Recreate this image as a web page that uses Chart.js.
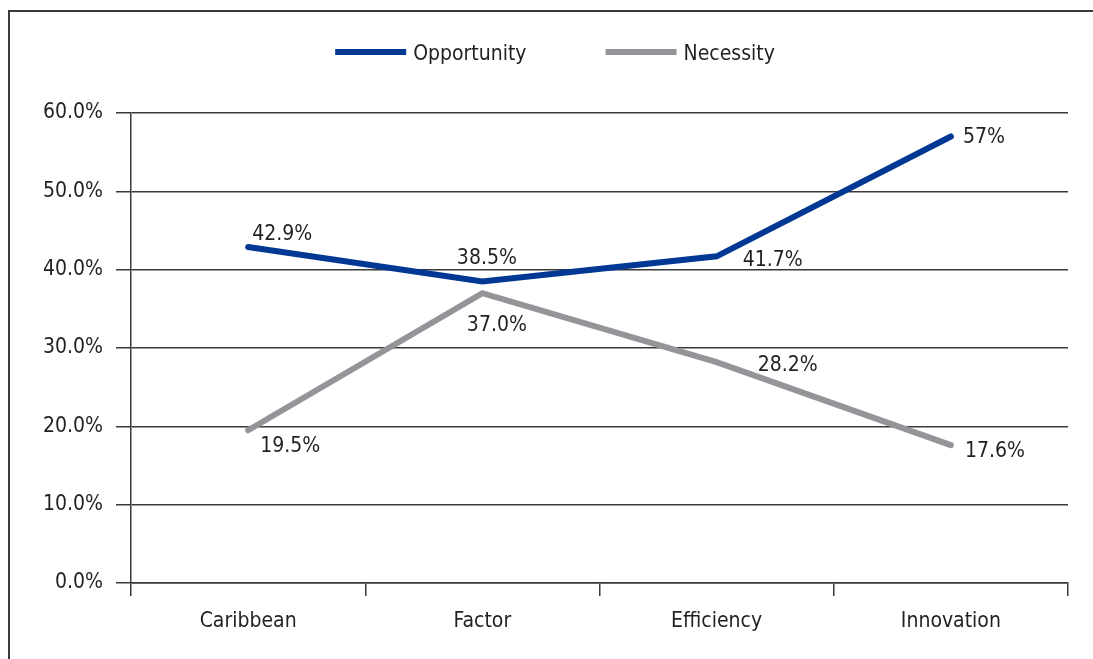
<!DOCTYPE html>
<html>
<head>
<meta charset="utf-8">
<script src="https://cdn.jsdelivr.net/npm/chart.js@4.4.1/dist/chart.umd.min.js"></script>
<style>
  html, body { margin: 0; padding: 0; background: #fff; }
  #wrap { position: relative; width: 1093px; height: 659px; overflow: hidden; }
  #frame { position: absolute; left: 8px; top: 10px; right: -10px; bottom: -10px;
           border-left: 2px solid #3a3a3a; border-top: 2px solid #3a3a3a; }
  #chart { position: absolute; left: 0; top: 0; }
</style>
</head>
<body>
<div id="wrap">
  <div id="frame"></div>
  <canvas id="chart" width="1093" height="659"></canvas>
</div>
<script>
// opportunity vs necessity motivated entrepreneurs, by economy type
const categories = ["Caribbean", "Factor", "Efficiency", "Innovation"];
const opportunity = [42.9, 38.5, 41.7, 57];
const necessity = [19.5, 37.0, 28.2, 17.6];
// decimals shown in each point label
const opportunityDigits = [1, 1, 1, 0];
const necessityDigits = [1, 1, 1, 1];
const yMin = 0, yMax = 60, yStep = 10;

const FONT_FAMILY = '"Liberation Sans Narrow", "DejaVu Sans Condensed", "Arial Narrow", sans-serif';
const FONT_SIZE = 21;
const TEXT = "#231f20";
const LINE = "#3a3a3a";
const BLUE = "#003893";
const GREY = "#939598";

// label placement per dataset/point: [dx, dy(baseline), align]
const labelOffsets = [
  [[4, -7, "left"], [4.5, -17, "center"], [26, 10, "left"], [12, 6.5, "left"]],
  [[12, 22, "left"], [14.5, 38, "center"], [41, 9, "left"], [14, 11.5, "left"]]
];
const labelDigits = [opportunityDigits, necessityDigits];

const valueLabels = {
  id: "valueLabels",
  afterDraw(chart) {
    const ctx = chart.ctx;
    ctx.save();
    ctx.font = FONT_SIZE + "px " + FONT_FAMILY;
    ctx.fillStyle = TEXT;
    ctx.textBaseline = "alphabetic";
    chart.data.datasets.forEach((ds, di) => {
      const meta = chart.getDatasetMeta(di);
      meta.data.forEach((pt, i) => {
        const o = labelOffsets[di][i];
        ctx.textAlign = o[2];
        ctx.fillText(ds.data[i].toFixed(labelDigits[di][i]) + "%", pt.x + o[0], pt.y + o[1]);
      });
    });
    ctx.restore();
  }
};

// legend: thick line swatch + name, centred above the plot
const lineLegend = {
  id: "lineLegend",
  afterDraw(chart) {
    const ctx = chart.ctx;
    const boxW = 71, boxH = 6, gap = 7, spacing = 79, centerX = 555, y = 52;
    ctx.save();
    ctx.font = FONT_SIZE + "px " + FONT_FAMILY;
    const items = chart.data.datasets.map(ds => ({
      text: ds.label,
      color: ds.borderColor,
      w: boxW + gap + ctx.measureText(ds.label).width
    }));
    const total = items.reduce((a, it) => a + it.w, 0) + spacing * (items.length - 1);
    let x = centerX - total / 2;
    items.forEach(it => {
      ctx.fillStyle = it.color;
      ctx.fillRect(x, y - boxH / 2, boxW, boxH);
      ctx.fillStyle = TEXT;
      ctx.textAlign = "left";
      ctx.textBaseline = "alphabetic";
      ctx.fillText(it.text, x + boxW + gap, y + 8);
      x += it.w + spacing;
    });
    ctx.restore();
  }
};

const ctx = document.getElementById("chart").getContext("2d");
new Chart(ctx, {
  type: "line",
  data: {
    labels: categories,
    datasets: [
      {
        label: "Opportunity",
        data: opportunity,
        borderColor: BLUE,
        backgroundColor: BLUE,
        borderWidth: 6,
        borderCapStyle: "round",
        borderJoinStyle: "miter",
        pointRadius: 0,
        tension: 0
      },
      {
        label: "Necessity",
        data: necessity,
        borderColor: GREY,
        backgroundColor: GREY,
        borderWidth: 6,
        borderCapStyle: "round",
        borderJoinStyle: "miter",
        pointRadius: 0,
        tension: 0
      }
    ]
  },
  options: {
    responsive: false,
    animation: false,
    events: [],
    layout: { padding: { top: 113, right: 25, bottom: 0, left: 21 } },
    plugins: {
      legend: { display: false },
      tooltip: { enabled: false }
    },
    scales: {
      x: {
        type: "category",
        offset: true,
        grid: {
          offset: true,
          drawOnChartArea: false,
          color: LINE,
          lineWidth: 1.5,
          tickLength: 13
        },
        border: { color: LINE, width: 1.5 },
        ticks: {
          color: TEXT,
          padding: 13,
          font: { family: FONT_FAMILY, size: FONT_SIZE }
        },
        afterFit(scale) { scale.height = 76; }
      },
      y: {
        min: yMin,
        max: yMax,
        z: 1,
        grid: {
          color: LINE,
          lineWidth: 1.5,
          tickLength: 15
        },
        border: { color: LINE, width: 1.5 },
        ticks: {
          stepSize: yStep,
          color: TEXT,
          padding: 13,
          font: { family: FONT_FAMILY, size: FONT_SIZE },
          callback: v => v.toFixed(1) + "%"
        },
        afterFit(scale) { scale.width = 110; }
      }
    }
  },
  plugins: [valueLabels, lineLegend]
});
</script>
</body>
</html>
